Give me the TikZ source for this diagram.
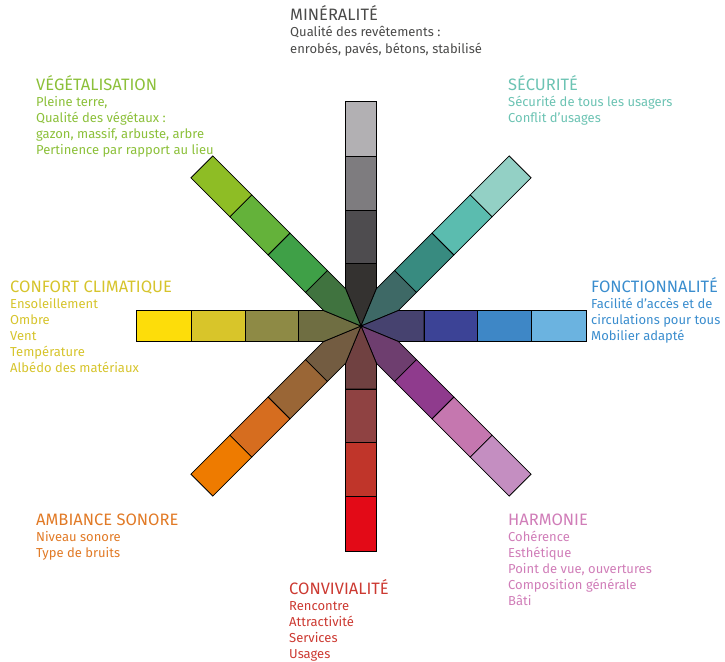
\documentclass[tikz,border=0pt]{standalone}
\usepackage{fontspec}
\setmainfont{Fira Sans}
\begin{document}
\begin{tikzpicture}[x=1pt,y=1pt,
  hd/.style={anchor=base west,inner sep=0pt,font=\fontsize{16.5}{16}\selectfont},
  bd/.style={anchor=base west,inner sep=0pt,font=\fontsize{13}{16}\selectfont},
  seg/.style={draw=black,line width=0.8pt,line join=miter}]
\useasboundingbox (0,0) rectangle (725,-661);
\def\w{15.5}
\def\ri{37.4}
% arm macro: angle, c1 (outer) .. c4 (inner)
\newcommand\myarm[5]{%
  \begin{scope}[shift={(361,-326)},rotate=#1]
    \filldraw[seg,fill=#5] (0,0) -- (\ri,\w) -- (63,\w) -- (63,-\w) -- (\ri,-\w) -- cycle;
    \filldraw[seg,fill=#4] (63,-\w) rectangle (116,\w);
    \filldraw[seg,fill=#3] (116,-\w) rectangle (170,\w);
    \filldraw[seg,fill=#2] (170,-\w) rectangle (225,\w);
  \end{scope}}
\definecolor{mA}{HTML}{B2B0B3}\definecolor{mB}{HTML}{7E7C7F}\definecolor{mC}{HTML}{4E4C4F}\definecolor{mD}{HTML}{343230}
\definecolor{sA}{HTML}{93D0C5}\definecolor{sB}{HTML}{5BBCAF}\definecolor{sC}{HTML}{388B80}\definecolor{sD}{HTML}{3E6966}
\definecolor{fA}{HTML}{6BB3E0}\definecolor{fB}{HTML}{3E87C6}\definecolor{fC}{HTML}{3C4396}\definecolor{fD}{HTML}{46426F}
\definecolor{hA}{HTML}{C48EC1}\definecolor{hB}{HTML}{C577AF}\definecolor{hC}{HTML}{8F3B8D}\definecolor{hD}{HTML}{6E3E6F}
\definecolor{cA}{HTML}{E30A17}\definecolor{cB}{HTML}{C0352A}\definecolor{cC}{HTML}{8F4242}\definecolor{cD}{HTML}{704141}
\definecolor{aA}{HTML}{EE7B00}\definecolor{aB}{HTML}{D66D1F}\definecolor{aC}{HTML}{9A6636}\definecolor{aD}{HTML}{735C41}
\definecolor{kA}{HTML}{FDDD0A}\definecolor{kB}{HTML}{D8C52A}\definecolor{kC}{HTML}{8E8A45}\definecolor{kD}{HTML}{6F6E42}
\definecolor{vA}{HTML}{8EBD25}\definecolor{vB}{HTML}{64B23A}\definecolor{vC}{HTML}{3FA047}\definecolor{vD}{HTML}{40733F}
% text colours
\definecolor{tM}{HTML}{4A4A49}
\definecolor{tV}{HTML}{8CC03A}
\definecolor{tS}{HTML}{6CC3B3}
\definecolor{tF}{HTML}{3A8DCE}
\definecolor{tK}{HTML}{D6C42C}
\definecolor{tA}{HTML}{E17A26}
\definecolor{tC}{HTML}{CC3A32}
\definecolor{tH}{HTML}{D07DB8}

\myarm{90}{mA}{mB}{mC}{mD}
\myarm{45}{sA}{sB}{sC}{sD}
\myarm{0}{fA}{fB}{fC}{fD}
\myarm{-45}{hA}{hB}{hC}{hD}
\myarm{-90}{cA}{cB}{cC}{cD}
\myarm{-135}{aA}{aB}{aC}{aD}
\myarm{180}{kA}{kB}{kC}{kD}
\myarm{135}{vA}{vB}{vC}{vD}

% labels
\node[hd,text=tM] (min) at (290,-21) {MINÉRALITÉ};
\foreach \t [count=\i] in {Qualité des revêtements :,{enrobés, pavés, bétons, stabilisé}}
  \node[bd,text=tM] (min-\i) at (290,-21-16*\i) {\t};

\node[hd,text=tV] (veg) at (36,-90) {VÉGÉTALISATION};
\foreach \t [count=\i] in {{Pleine terre,},Qualité des végétaux :,{gazon, massif, arbuste, arbre},Pertinence par rapport au lieu}
  \node[bd,text=tV] (veg-\i) at (36,-90-16*\i) {\t};

\node[hd,text=tS] (sec) at (508,-90) {SÉCURITÉ};
\foreach \t [count=\i] in {Sécurité de tous les usagers,Conflit d’usages}
  \node[bd,text=tS] (sec-\i) at (508,-90-16*\i) {\t};

\node[hd,text=tK] (cli) at (10,-292.5) {CONFORT CLIMATIQUE};
\foreach \t [count=\i] in {Ensoleillement,Ombre,Vent,Température,Albédo des matériaux}
  \node[bd,text=tK] (cli-\i) at (10,-292.5-16*\i) {\t};

\node[hd,text=tF] (fon) at (591,-292.5) {FONCTIONNALITÉ};
\foreach \t [count=\i] in {Facilité d’accès et de,circulations pour tous,Mobilier adapté}
  \node[bd,text=tF] (fon-\i) at (591,-292.5-16*\i) {\t};

\node[hd,text=tA] (amb) at (36,-525) {AMBIANCE SONORE};
\foreach \t [count=\i] in {Niveau sonore,Type de bruits}
  \node[bd,text=tA] (amb-\i) at (36,-525-16*\i) {\t};

\node[hd,text=tC] (con) at (289,-594) {CONVIVIALITÉ};
\foreach \t [count=\i] in {Rencontre,Attractivité,Services,Usages}
  \node[bd,text=tC] (con-\i) at (289,-594-16*\i) {\t};

\node[hd,text=tH] (har) at (508,-525) {HARMONIE};
\foreach \t [count=\i] in {Cohérence,Esthétique,{Point de vue, ouvertures},Composition générale,Bâti}
  \node[bd,text=tH] (har-\i) at (508,-525-16*\i) {\t};
\end{tikzpicture}
\end{document}
